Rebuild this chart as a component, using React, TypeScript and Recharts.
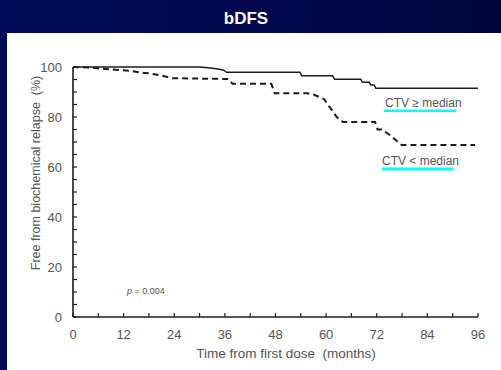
import { Line, LineChart, XAxis, YAxis } from "recharts";

// Kaplan-Meier curves (months, % free from relapse)
const ctvHighMonths = [0, 30, 32, 34, 35.6, 36.4, 53.8, 54.2, 61.5, 62, 68.2, 68.6, 70.2, 70.6, 71.4, 71.8, 96];
const ctvHighFree = [100, 100, 99.7, 99.3, 98.8, 97.9, 97.9, 96.5, 96.5, 95.1, 95.1, 93.9, 93.9, 92.8, 92.8, 91.5, 91.5];

const ctvLowMonths = [0, 4, 7, 10, 13.5, 16, 18.3, 20.6, 23.7, 36.8, 37.8, 47, 47.8, 55.4, 57, 59.5, 60.2, 62.5, 64, 71.6, 72.2, 73.2, 75.1, 77.9, 95.3];
const ctvLowFree = [100, 99.8, 99.3, 98.9, 98.5, 97.8, 97.4, 96.7, 95.5, 95.2, 93.3, 93.3, 89.5, 89.5, 89, 87.2, 85.5, 80, 78, 78, 75, 75, 72.8, 68.8, 68.8];

const xTicks = [0, 6, 12, 18, 24, 30, 36, 42, 48, 54, 60, 66, 72, 78, 84, 90, 96];
const yTicks = [0, 5, 10, 15, 20, 25, 30, 35, 40, 45, 50, 55, 60, 65, 70, 75, 80, 85, 90, 95, 100];

const ctvHigh = ctvHighMonths.map((m, i) => ({ m, s: ctvHighFree[i] }));
const ctvLow = ctvLowMonths.map((m, i) => ({ m, s: ctvLowFree[i] }));

const FONT = "Arial, 'Liberation Sans', Helvetica, sans-serif";
const INK = "#1c1c1c";
const GREY = "#555";

function XTick({ x, y, payload }: any) {
  const major = payload.value % 12 === 0;
  return (
    <g>
      <line x1={x} y1={y} x2={x} y2={y - 4} stroke={INK} strokeWidth={1.2} />
      {major && (
        <text x={x} y={y + 22} textAnchor="middle" fill={GREY} fontSize={13} fontFamily={FONT}>
          {payload.value}
        </text>
      )}
    </g>
  );
}

function YTick({ x, y, payload }: any) {
  const major = payload.value % 20 === 0;
  return (
    <g>
      <line x1={x} y1={y} x2={x + 4} y2={y} stroke={INK} strokeWidth={1.2} />
      {major && (
        <text x={x - 11} y={y + 4.5} textAnchor="end" fill={GREY} fontSize={13} fontFamily={FONT}>
          {payload.value}
        </text>
      )}
    </g>
  );
}

export default function App() {
  return (
    <div
      style={{
        position: "fixed",
        left: 0,
        top: 0,
        width: 501,
        height: 370,
        background: "linear-gradient(90deg, #000a58 0%, #00074a 60%, #00053c 100%)",
        overflow: "hidden",
      }}
    >
      <div
        style={{
          position: "absolute",
          left: 0,
          top: 8,
          width: 492,
          textAlign: "center",
          color: "#fff",
          fontFamily: FONT,
          fontWeight: "bold",
          fontSize: 17,
          lineHeight: "22px",
        }}
      >
        bDFS
      </div>
      <div style={{ position: "absolute", left: 7, top: 33, width: 494, height: 337, background: "#fff" }}>
        <LineChart width={494} height={337} margin={{ top: 34, right: 23, left: 16, bottom: 23 }}>
          <XAxis
            type="number"
            dataKey="m"
            domain={[0, 96]}
            ticks={xTicks}
            interval={0}
            tickSize={0}
            tickMargin={0}
            tickLine={false}
            tick={<XTick />}
            axisLine={{ stroke: INK, strokeWidth: 1.6 }}
            height={30}
            allowDataOverflow
          />
          <YAxis
            type="number"
            domain={[0, 100]}
            ticks={yTicks}
            interval={0}
            tickSize={0}
            tickMargin={0}
            tickLine={false}
            tick={<YTick />}
            axisLine={{ stroke: INK, strokeWidth: 1.6 }}
            width={50}
          />
          <Line
            data={ctvHigh}
            dataKey="s"
            type="linear"
            stroke={INK}
            strokeWidth={1.5}
            dot={false}
            isAnimationActive={false}
          />
          <Line
            data={ctvLow}
            dataKey="s"
            type="linear"
            stroke={INK}
            strokeWidth={2}
            strokeDasharray="6 4"
            dot={false}
            isAnimationActive={false}
          />
          <text
            x={0}
            y={0}
            transform="translate(33 140) rotate(-90)"
            textAnchor="middle"
            fill={GREY}
            fontSize={12.5}
            fontFamily={FONT}
            style={{ whiteSpace: "pre" }}
          >
            {"Free from biochemical relapse  (%)"}
          </text>
          <text
            x={279}
            y={325}
            textAnchor="middle"
            fill={GREY}
            fontSize={13.5}
            fontFamily={FONT}
            style={{ whiteSpace: "pre" }}
          >
            {"Time from first dose  (months)"}
          </text>
          <text x={378} y={74} fill={GREY} fontSize={12} fontFamily={FONT}>
            CTV ≥ median
          </text>
          <rect x={377} y={76.5} width={72} height={2.5} fill="#00ffff" />
          <text x={375} y={132} fill={GREY} fontSize={12} fontFamily={FONT}>
            CTV &lt; median
          </text>
          <rect x={375} y={134.5} width={71} height={3} fill="#00ffff" />
          <text x={120} y={261} fill={GREY} fontSize={9} fontFamily={FONT}>
            <tspan fontStyle="italic">p</tspan> = 0.004
          </text>
        </LineChart>
      </div>
    </div>
  );
}
